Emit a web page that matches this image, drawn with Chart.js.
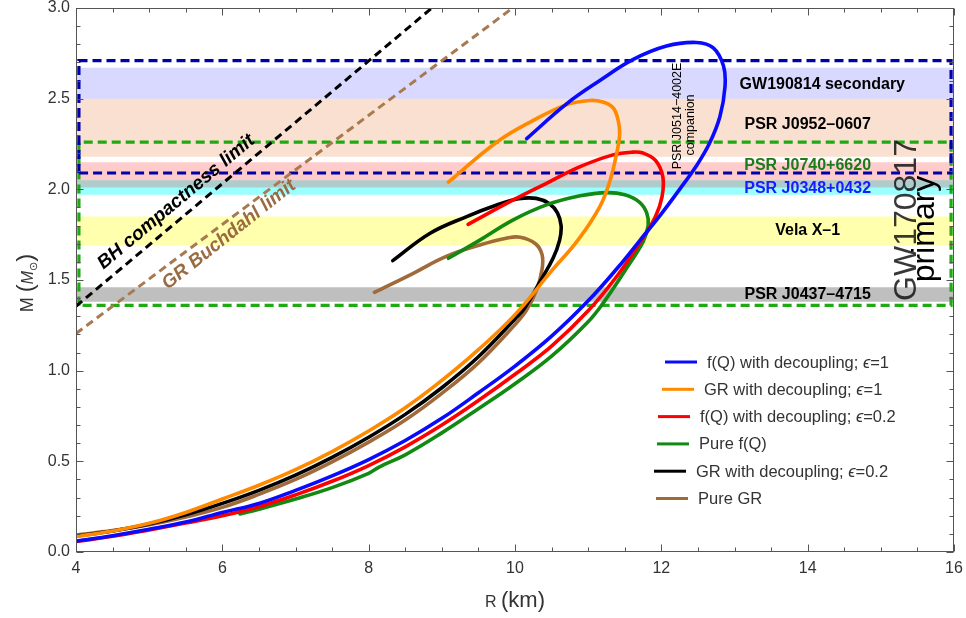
<!DOCTYPE html>
<html>
<head>
<meta charset="utf-8">
<script src="https://cdn.jsdelivr.net/npm/chart.js@4.4.1/dist/chart.umd.min.js"></script>
<style>
  html, body { margin: 0; padding: 0; background: #fff; }
</style>
</head>
<body>
<canvas id="mr" width="966" height="618"></canvas>
<script>
/* ── data ── */
const xTicks = [4, 6, 8, 10, 12, 14, 16];
const yTicks = [0, 0.5, 1, 1.5, 2, 2.5, 3];

// f(Q) with decoupling, eps = 1
const fqEps1R = [4.0,4.5,5.0,5.5,6.0,6.5,7.0,7.5,8.0,8.5,9.0,9.5,10.0,10.5,11.0,11.4,11.7,12.0,12.25,12.48,12.66,12.80,12.87,12.85,12.71,12.48,12.07,11.61,11.16,10.70,10.16];
const fqEps1M = [0.060,0.090,0.125,0.165,0.218,0.268,0.340,0.420,0.510,0.615,0.737,0.878,1.025,1.190,1.385,1.566,1.715,1.865,2.000,2.130,2.255,2.400,2.565,2.680,2.780,2.810,2.790,2.715,2.600,2.470,2.280];
// GR with decoupling, eps = 1
const grEps1R = [4.0,4.5,5.0,5.5,6.0,6.5,7.0,7.5,8.0,8.5,9.0,9.5,10.0,10.5,10.86,11.16,11.30,11.39,11.43,11.41,11.34,11.20,11.02,10.70,10.25,9.75,9.09];
const grEps1M = [0.085,0.116,0.158,0.218,0.292,0.368,0.454,0.554,0.667,0.795,0.946,1.116,1.309,1.550,1.720,1.905,2.050,2.200,2.300,2.380,2.450,2.482,2.490,2.466,2.380,2.260,2.040];
// f(Q) with decoupling, eps = 0.2
const fqEps02R = [4.0,4.5,5.0,5.5,6.0,6.5,7.0,7.5,8.0,8.5,9.0,9.5,10.0,10.5,11.0,11.4,11.73,11.92,12.01,12.02,11.92,11.75,11.61,11.34,10.89,10.43,9.97,9.36];
const fqEps02M = [0.058,0.087,0.122,0.160,0.200,0.250,0.315,0.390,0.477,0.580,0.700,0.835,0.980,1.135,1.330,1.525,1.720,1.850,1.960,2.070,2.160,2.200,2.205,2.190,2.125,2.033,1.940,1.807];
// pure f(Q)
const pureFqR = [6.24,6.5,7.0,7.5,8.0,8.15,8.5,9.0,9.5,10.0,10.5,11.0,11.2,11.5,11.75,11.82,11.80,11.70,11.50,11.25,10.89,10.43,9.97,9.52,9.09];
const pureFqM = [0.210,0.236,0.292,0.355,0.434,0.470,0.536,0.657,0.790,0.928,1.080,1.270,1.370,1.550,1.710,1.800,1.870,1.930,1.970,1.982,1.964,1.914,1.830,1.720,1.620];
// GR with decoupling, eps = 0.2
const grEps02R = [4.0,4.5,5.0,5.5,6.0,6.5,7.0,7.5,8.0,8.5,9.0,9.5,10.0,10.13,10.34,10.52,10.61,10.63,10.58,10.47,10.29,10.05,9.75,9.34,8.84,8.33];
const grEps02M = [0.088,0.116,0.154,0.205,0.268,0.340,0.424,0.522,0.633,0.759,0.906,1.077,1.285,1.344,1.490,1.620,1.720,1.800,1.870,1.920,1.950,1.948,1.914,1.850,1.758,1.607];
// pure GR
const pureGrR = [4.0,4.5,5.0,5.5,6.0,6.5,7.0,7.5,8.0,8.5,9.0,9.5,10.0,10.16,10.30,10.37,10.37,10.28,10.07,9.88,9.52,9.06,8.61,8.08];
const pureGrM = [0.094,0.118,0.150,0.193,0.246,0.318,0.400,0.497,0.606,0.728,0.875,1.043,1.254,1.335,1.450,1.560,1.640,1.700,1.736,1.730,1.693,1.630,1.537,1.432];

// limit lines
const bhLimitR = [4.0, 9.1];
const bhLimitM = [1.355, 3.08];
const buchdahlR = [4.0, 10.2];
const buchdahlM = [1.205, 3.07];

// observed mass bands
const bandNames = ['GW190814 secondary', 'PSR J0952\u20130607', 'PSR J0740+6620', 'PSR J0348+0432', 'Vela X\u20131', 'PSR J0437\u20134715'];
const bandLow  = [2.50, 2.18, 2.01, 1.97, 1.69, 1.38];
const bandHigh = [2.67, 2.50, 2.15, 2.05, 1.85, 1.46];

// dashed GW boxes
const boxR = [4.04, 4.04, 15.96, 15.96, 4.04];
const gwSecBoxM  = [2.09, 2.71, 2.71, 2.09, 2.09];
const gwPrimBoxM = [1.36, 2.26, 2.26, 1.36, 1.36];

/* ── styles ── */
const FONT = '"Liberation Sans", Arial, Helvetica, sans-serif';
const curves = [
  { label: 'f(Q) with decoupling; ', eps: '=1',   R: fqEps1R,  M: fqEps1M,  color: '#0a0aff' },
  { label: 'GR with decoupling; ',   eps: '=1',   R: grEps1R,  M: grEps1M,  color: '#ff8a00' },
  { label: 'f(Q) with decoupling; ', eps: '=0.2', R: fqEps02R, M: fqEps02M, color: '#ff0000' },
  { label: 'Pure f(Q)',              eps: null,   R: pureFqR,  M: pureFqM,  color: '#128a12' },
  { label: 'GR with decoupling; ',   eps: '=0.2', R: grEps02R, M: grEps02M, color: '#000000' },
  { label: 'Pure GR',                eps: null,   R: pureGrR,  M: pureGrM,  color: '#a06a3a' }
];
const bandColors = ['rgba(0,0,255,0.15)', 'rgba(232,140,80,0.27)', 'rgba(255,0,0,0.2)', 'rgba(0,255,255,0.4)', 'rgba(255,255,0,0.32)', 'rgba(0,0,0,0.25)'];
const bandOrder  = [12, 13, 11, 16, 14, 15];
const bandTextColors = ['#000', '#000', '#1c7a1c', '#1a1aff', '#000', '#000'];

const pts = (R, M) => R.map((r, i) => ({ x: r, y: M[i] }));

const datasets = [];
curves.forEach((c, i) => {
  datasets.push({
    label: c.label, data: pts(c.R, c.M), borderColor: c.color, borderWidth: 3.6,
    tension: 0.4, pointRadius: 0, fill: false, borderCapStyle: 'round', order: i + 1
  });
});
datasets.push({ data: pts(bhLimitR, bhLimitM), borderColor: '#000', borderWidth: 3, borderDash: [8, 5], tension: 0, pointRadius: 0, fill: false, order: 7 });
datasets.push({ data: pts(buchdahlR, buchdahlM), borderColor: '#a97a50', borderWidth: 3, borderDash: [8, 5], tension: 0, pointRadius: 0, fill: false, order: 8 });
datasets.push({ data: pts(boxR, gwSecBoxM), borderColor: '#0000a8', borderWidth: 3.2, borderDash: [9, 5], tension: 0, pointRadius: 0, fill: false, order: 9 });
datasets.push({ data: pts(boxR, gwPrimBoxM), borderColor: '#1faa14', borderWidth: 3.2, borderDash: [9, 5], tension: 0, pointRadius: 0, fill: false, order: 10 });
bandNames.forEach((n, i) => {
  datasets.push({
    label: n, data: [{ x: 4, y: bandHigh[i] }, { x: 16, y: bandHigh[i] }],
    borderColor: 'transparent', borderWidth: 0, backgroundColor: bandColors[i],
    fill: { value: bandLow[i] }, tension: 0, pointRadius: 0, order: bandOrder[i]
  });
});

/* ── text helpers ── */
function runsWidth(ctx, runs) {
  let w = 0;
  runs.forEach(r => { ctx.font = r[1]; w += ctx.measureText(r[0]).width; });
  return w;
}
function drawRuns(ctx, runs, x, y, center) {
  let cx = center ? x - runsWidth(ctx, runs) / 2 : x;
  ctx.textAlign = 'left';
  runs.forEach(r => {
    ctx.font = r[1];
    ctx.fillText(r[0], cx, y + (r[2] || 0));
    cx += ctx.measureText(r[0]).width;
  });
}

/* ── frame, inward ticks, labels, legend ── */
const overlay = {
  id: 'overlay',
  afterDatasetsDraw(chart) {
    const ctx = chart.ctx;
    const xs = chart.scales.x, ys = chart.scales.y;
    const { left, right, top, bottom } = chart.chartArea;
    const px = v => xs.getPixelForValue(v);
    const py = v => ys.getPixelForValue(v);
    ctx.save();

    // band labels
    const bandLabelAt = [[14.2, 2.585], [14.0, 2.36], [14.0, 2.138], [14.0, 2.012], [14.0, 1.776], [14.0, 1.423]];
    ctx.textBaseline = 'middle';
    ctx.textAlign = 'center';
    ctx.font = 'bold 16px ' + FONT;
    bandNames.forEach((n, i) => {
      ctx.fillStyle = bandTextColors[i];
      ctx.fillText(n, px(bandLabelAt[i][0]), py(bandLabelAt[i][1]) + 1);
    });

    // PSR J0514-4002E companion (vertical)
    ctx.fillStyle = '#000';
    ctx.font = '12.5px ' + FONT;
    ctx.textBaseline = 'alphabetic';
    ctx.save(); ctx.translate(681, 116); ctx.rotate(-Math.PI / 2);
    ctx.fillText('PSR J0514\u22124002E', 0, 0); ctx.restore();
    ctx.save(); ctx.translate(694, 125); ctx.rotate(-Math.PI / 2);
    ctx.fillText('companion', 0, 0); ctx.restore();

    // GW170817 primary (vertical)
    ctx.font = '32px ' + FONT;
    ctx.save(); ctx.translate(916, 220); ctx.rotate(-Math.PI / 2);
    ctx.fillStyle = 'rgba(20,20,20,0.85)';
    ctx.fillText('GW170817', 0, 0); ctx.restore();
    ctx.save(); ctx.translate(934, 229); ctx.rotate(-Math.PI / 2);
    ctx.fillStyle = '#000';
    ctx.fillText('primary', 0, 0); ctx.restore();

    // limit line labels along the dashed lines
    const angleOf = (R, M) => Math.atan2(py(M[1]) - py(M[0]), px(R[1]) - px(R[0]));
    ctx.textBaseline = 'middle';
    ctx.font = 'italic bold 19px ' + FONT;
    ctx.save(); ctx.translate(px(5.37), py(1.93)); ctx.rotate(angleOf(bhLimitR, bhLimitM));
    ctx.fillStyle = '#000'; ctx.fillText('BH compactness limit', 0, 0); ctx.restore();
    ctx.save(); ctx.translate(px(6.09), py(1.75)); ctx.rotate(angleOf(buchdahlR, buchdahlM) - 0.03);
    ctx.fillStyle = '#9a6a40'; ctx.fillText('GR Buchdahl limit', 0, 0); ctx.restore();

    // legend
    const legX = [665, 662, 658, 657, 654, 656];
    const legY0 = 362, legStep = 27.3;
    ctx.textBaseline = 'middle';
    curves.forEach((c, i) => {
      const y = legY0 + i * legStep;
      ctx.strokeStyle = c.color; ctx.lineWidth = 3; ctx.setLineDash([]);
      ctx.beginPath(); ctx.moveTo(legX[i], y); ctx.lineTo(legX[i] + 32, y); ctx.stroke();
      ctx.fillStyle = '#333';
      const runs = [[c.label, '16.5px ' + FONT]];
      if (c.eps) { runs.push(['\u03f5', 'italic 16.5px ' + FONT]); runs.push([c.eps, '16.5px ' + FONT]); }
      drawRuns(ctx, runs, legX[i] + 42, y + 1, false);
    });

    // frame
    ctx.strokeStyle = '#555'; ctx.lineWidth = 1;
    const L = Math.round(left) + 0.5, R = Math.round(right) - 0.5;
    const T = Math.round(top) + 0.5, B = Math.round(bottom) - 0.5;
    ctx.strokeRect(L, T, R - L, B - T);

    // inward ticks
    ctx.beginPath();
    for (let k = 0; k <= 24; k++) {
      const v = 4 + k * 0.5;
      const len = (k % 4 === 0) ? 7 : 4;
      const x = Math.round(px(v)) + 0.5;
      ctx.moveTo(x, B); ctx.lineTo(x, B - len);
      ctx.moveTo(x, T); ctx.lineTo(x, T + len);
    }
    for (let k = 0; k <= 30; k++) {
      const v = k * 0.1;
      const len = (k % 5 === 0) ? 7 : 4;
      const y = Math.round(py(v)) + 0.5;
      ctx.moveTo(L, y); ctx.lineTo(L + len, y);
      ctx.moveTo(R, y); ctx.lineTo(R - len, y);
    }
    ctx.stroke();

    // axis titles
    ctx.fillStyle = '#333';
    ctx.textBaseline = 'alphabetic';
    drawRuns(ctx, [['R', '16px ' + FONT], [' ', '16px ' + FONT], ['(km)', '22px ' + FONT]], (left + right) / 2, 607, true);
    ctx.save(); ctx.translate(33, (top + bottom) / 2 + 3); ctx.rotate(-Math.PI / 2);
    drawRuns(ctx, [['M', '18px ' + FONT], [' ', '18px ' + FONT], ['(', '24px ' + FONT],
      ['M', 'italic 16px ' + FONT], ['\u2299', '11px ' + FONT, 4], [')', '24px ' + FONT]], 0, 0, true);
    ctx.restore();

    ctx.restore();
  }
};

const noPad = s => { s.paddingTop = 0; s.paddingBottom = 0; s.paddingLeft = 0; s.paddingRight = 0; };

new Chart(document.getElementById('mr'), {
  type: 'line',
  data: { datasets },
  options: {
    responsive: false,
    animation: false,
    layout: { padding: { top: 8, right: 12, left: 0, bottom: 0 } },
    plugins: { legend: { display: false }, tooltip: { enabled: false } },
    scales: {
      x: {
        type: 'linear', min: 4, max: 16,
        afterFit: s => { s.height = 66; noPad(s); },
        afterBuildTicks: s => { s.ticks = xTicks.map(v => ({ value: v })); },
        ticks: { color: '#333', padding: 7, font: { family: FONT, size: 16 }, maxRotation: 0, callback: v => String(v) },
        grid: { display: false, drawTicks: false },
        border: { display: false }
      },
      y: {
        type: 'linear', min: 0, max: 3,
        afterFit: s => { s.width = 76; noPad(s); },
        afterBuildTicks: s => { s.ticks = yTicks.map(v => ({ value: v })); },
        ticks: { color: '#333', padding: 6, font: { family: FONT, size: 16 }, callback: v => v.toFixed(1) },
        grid: { display: false, drawTicks: false },
        border: { display: false }
      }
    }
  },
  plugins: [overlay]
});
</script>
</body>
</html>
